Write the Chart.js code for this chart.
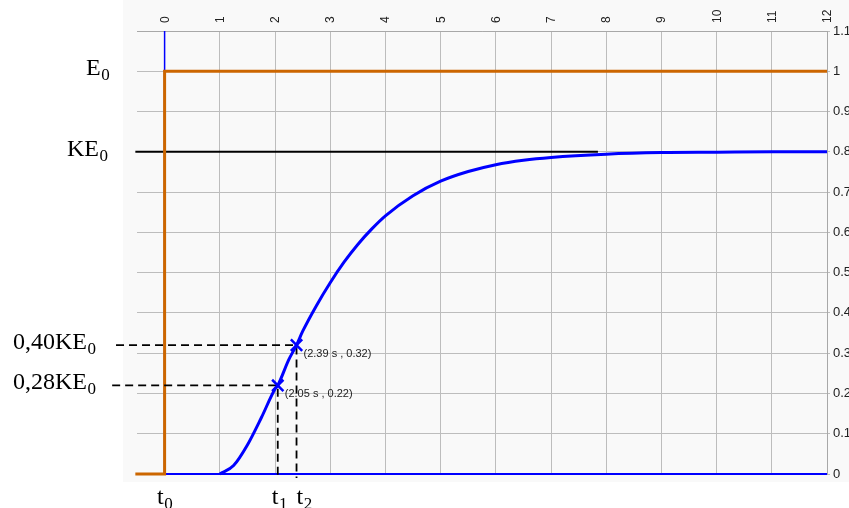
<!DOCTYPE html>
<html>
<head>
<meta charset="utf-8">
<script src="https://cdn.jsdelivr.net/npm/chart.js@4/dist/chart.umd.min.js"></script>
<style>
  html, body { margin: 0; padding: 0; background: #fff; overflow: hidden; }
  #wrap { width: 849px; height: 508px; position: relative; }
</style>
</head>
<body>
<div id="wrap"><canvas id="c" width="849" height="508"></canvas></div>
<script>
// Axis ticks: time (s) along the top, response on the right
const xTicks = [0, 1, 2, 3, 4, 5, 6, 7, 8, 9, 10, 11, 12];
const yTicks = [0, 0.1, 0.2, 0.3, 0.4, 0.5, 0.6, 0.7, 0.8, 0.9, 1, 1.1];
const yTickLabels = ['0', '0.1', '0.2', '0.3', '0.4', '0.5', '0.6', '0.7', '0.8', '0.9', '1', '1.1'];

// Input step E(t)
const stepT = [-0.53, 0, 0, 12];
const stepE = [0, 0, 1, 1];

// Output response
const respT = [1, 1.25, 1.5, 1.75, 2, 2.05, 2.25, 2.39, 2.5, 2.75, 3, 3.25, 3.5, 3.75, 4, 4.5, 5, 5.5, 6, 6.5, 7, 8, 9, 10, 11, 12];
const respV = [0, 0.021, 0.072, 0.139, 0.211, 0.22, 0.284, 0.32, 0.354, 0.418, 0.475, 0.526, 0.570, 0.608, 0.641, 0.691, 0.727, 0.751, 0.768, 0.779, 0.786, 0.794, 0.798, 0.799, 0.8, 0.8];

// Final value level KE0
const finalT = [-0.53, 7.85];
const finalV = [0.8, 0.8];

// Marked points on the response (t1, t2)
const markT = [2.05, 2.39];
const markV = [0.22, 0.32];
const guideFromT = [-0.95, -0.88];
const guideToV = -0.01;

// Blue axis lines through the origin
const baseT = [0, 12];
const baseV = [0, 0];
const riseT = [0, 0];
const riseV = [0, 1.1];

// Text beside the levels and under the times
const levelMain = ['E', 'KE', '0,40KE', '0,28KE'];
const levelSub = ['0', '0', '0', '0'];
const levelVal = [stepE[3], finalV[0], markV[1], markV[0]];
const timeMain = ['t', 't', 't'];
const timeSub = ['0', '1', '2'];
const timeVal = [0, markT[0], markT[1]];

// layout of those texts (left x in px, offset from the mark)
const levelLeft = [86, 67, 13, 13];
const timeShift = [-7.5, -6, 0];

const pts = (xs, ys) => xs.map((x, i) => ({ x: x, y: ys[i] }));

const BLUE = '#0000ff';
const ORANGE = '#cc6600';

const guideSets = markT.map((t, i) => ({
  data: pts([guideFromT[i], t, t], [markV[i], markV[i], guideToV]),
  borderColor: '#000',
  borderWidth: 1.8,
  borderDash: [8, 5],
  pointRadius: 0,
  tension: 0,
  clip: false
}));

const bgPlugin = {
  id: 'bg',
  beforeDraw(chart) {
    const ctx = chart.ctx;
    ctx.save();
    ctx.fillStyle = '#fff';
    ctx.fillRect(0, 0, chart.width, chart.height);
    ctx.fillStyle = '#f9f9f9';
    ctx.fillRect(123, 0, chart.width - 123, 482);
    ctx.restore();
  }
};

const textPlugin = {
  id: 'texts',
  afterDatasetsDraw(chart) {
    const ctx = chart.ctx;
    const xs = chart.scales.x, ys = chart.scales.y;
    ctx.save();
    ctx.fillStyle = '#000';
    ctx.textBaseline = 'alphabetic';
    ctx.textAlign = 'left';
    const mainFont = '24px "Liberation Serif", "Times New Roman", serif';
    const subFont = '17px "Liberation Serif", "Times New Roman", serif';
    const drawSub = (main, sub, x, base) => {
      ctx.font = mainFont;
      ctx.fillText(main, x, base);
      const w = ctx.measureText(main).width;
      ctx.font = subFont;
      ctx.fillText(sub, x + w + 0.5, base + 5);
    };
    levelMain.forEach((m, i) => {
      const py = ys.getPixelForValue(levelVal[i]);
      drawSub(m, levelSub[i], levelLeft[i], py + 4);
    });
    timeMain.forEach((m, i) => {
      const px = xs.getPixelForValue(timeVal[i]);
      drawSub(m, timeSub[i], px + timeShift[i], 504);
    });
    // coordinates of the marked points
    ctx.font = '11px "Liberation Sans", Arial, sans-serif';
    ctx.fillStyle = '#222';
    ctx.textBaseline = 'middle';
    markT.forEach((t, i) => {
      const px = xs.getPixelForValue(t);
      const py = ys.getPixelForValue(markV[i]);
      ctx.fillText('(' + t.toFixed(2) + ' s , ' + markV[i].toFixed(2) + ')', px + 7, py + 9);
    });
    ctx.restore();
  }
};

// Chart.js paints the first dataset on top, so the list runs from front to back
new Chart(document.getElementById('c'), {
  type: 'line',
  data: {
    datasets: [
      { data: pts(markT, markV), showLine: false, pointStyle: 'crossRot', pointRadius: 8, borderWidth: 2.5, borderColor: BLUE, clip: false },
      { data: pts(respT, respV), borderColor: BLUE, borderWidth: 3, pointRadius: 0, cubicInterpolationMode: 'monotone', clip: false },
      ...guideSets,
      { data: pts(stepT, stepE), borderColor: ORANGE, borderWidth: 3, pointRadius: 0, tension: 0, clip: false },
      { data: pts(finalT, finalV), borderColor: '#000', borderWidth: 2, pointRadius: 0, tension: 0, clip: false },
      { data: pts(riseT, riseV), borderColor: BLUE, borderWidth: 1.5, pointRadius: 0, tension: 0, clip: false },
      { data: pts(baseT, baseV), borderColor: BLUE, borderWidth: 2, pointRadius: 0, tension: 0, clip: false }
    ]
  },
  options: {
    responsive: false,
    animation: false,
    events: [],
    layout: { padding: { left: 137, bottom: 34, top: 0, right: 0 } },
    plugins: { legend: { display: false }, tooltip: { enabled: false } },
    scales: {
      x: {
        type: 'linear',
        position: 'top',
        min: -0.5,
        max: 12,
        afterBuildTicks: s => { s.ticks = xTicks.map(v => ({ value: v })); },
        afterFit: s => { s.height = 31; },
        grid: { color: '#bdbdbd', lineWidth: 1, drawTicks: false },
        border: { display: true, color: '#a8a8a8', width: 1 },
        ticks: {
          minRotation: 90, maxRotation: 90, padding: 8, labelOffset: 15,
          color: '#222',
          font: { family: '"Liberation Sans", Arial, sans-serif', size: 12 },
          callback: v => String(v)
        }
      },
      y: {
        type: 'linear',
        position: 'right',
        min: 0,
        max: 1.1,
        afterBuildTicks: s => { s.ticks = yTicks.map(v => ({ value: v })); },
        afterFit: s => { s.width = 22; },
        grid: { color: '#bdbdbd', lineWidth: 1, drawTicks: true, tickLength: 3 },
        border: { display: true, color: '#a8a8a8', width: 1 },
        ticks: {
          padding: 3,
          color: '#222',
          font: { family: '"Liberation Sans", Arial, sans-serif', size: 13 },
          callback: (v, i) => yTickLabels[i]
        }
      }
    }
  },
  plugins: [bgPlugin, textPlugin]
});
</script>
</body>
</html>
